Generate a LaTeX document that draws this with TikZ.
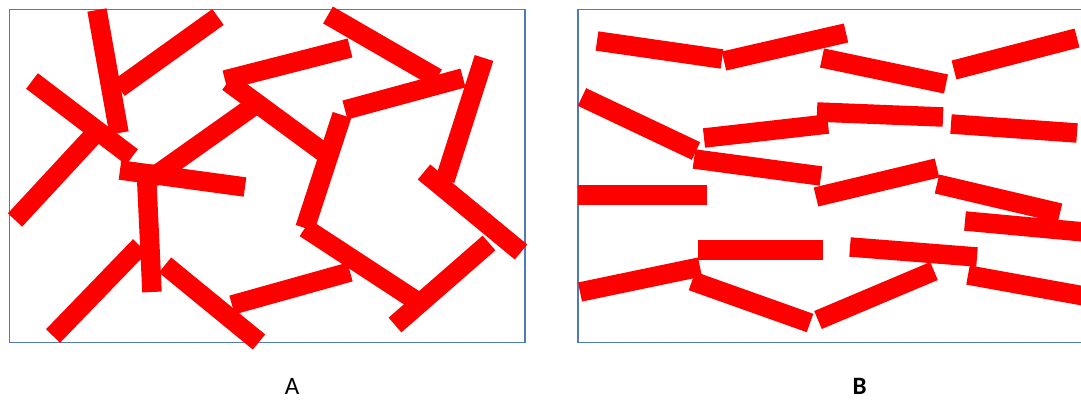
\documentclass[tikz,border=0pt]{standalone}
\usepackage{fontspec}
\setmainfont{Carlito}
\definecolor{framecol}{RGB}{79,123,185}
\definecolor{barred}{RGB}{255,0,0}
\tikzset{
  rbar/.style={draw=barred, line width=19.5pt, line cap=butt},
  panel/.style={draw=framecol, line width=1.1pt},
  lbl/.style={font=\fontsize{25}{30}\selectfont, anchor=base, inner sep=0pt}
}
\begin{document}
\begin{tikzpicture}[x=1pt,y=-1pt]
\useasboundingbox (0,0) rectangle (1081,402);
\fill[white] (0,0) rectangle (1081,402);
\begin{scope}
\clip (0,0) rectangle (1081,402);
% frames
\draw[panel] (9.5,9.5) rectangle (525,342.5);
\draw[panel] (578,9.5) rectangle (1095,342.5);
% panel A
\draw[rbar] (97,10) -- (119,133);
\draw[rbar] (119,88) -- (218,17);
\draw[rbar] (32,81) -- (132,157);
\draw[rbar] (15,220) -- (103,125);
\draw[rbar] (120,170) -- (245,187);
\draw[rbar] (146,165) -- (152,292);
\draw[rbar] (152,178) -- (255,105);
\draw[rbar] (225,80) -- (350,48);
\draw[rbar] (228,82) -- (323,152);
\draw[rbar] (342,115) -- (305,228);
\draw[rbar] (345,110) -- (463,78);
\draw[rbar] (328,15) -- (437,78);
\draw[rbar] (484,58) -- (445,180);
\draw[rbar] (424,172) -- (521,252);
\draw[rbar] (305,228) -- (415,300);
\draw[rbar] (395,325) -- (489,243);
\draw[rbar] (232,305) -- (350,272);
\draw[rbar] (165,265) -- (259,342);
\draw[rbar] (53,336) -- (140,246);
% panel B
\draw[rbar] (597,41) -- (722,59);
\draw[rbar] (724,61) -- (846,33);
\draw[rbar] (822,58) -- (946,84);
\draw[rbar] (954,70) -- (1077,38);
\draw[rbar] (582,97) -- (696,151);
\draw[rbar] (704,138) -- (828,124);
\draw[rbar] (817,112) -- (943,117);
\draw[rbar] (951,124) -- (1077,133);
\draw[rbar] (694,159) -- (821,176);
\draw[rbar] (578,195) -- (707,195);
\draw[rbar] (816,197) -- (937,168);
\draw[rbar] (937,184) -- (1060,213);
\draw[rbar] (965,221) -- (1095,233);
\draw[rbar] (698,250) -- (823,250);
\draw[rbar] (850,247) -- (977,257);
\draw[rbar] (968,275) -- (1095,298);
\draw[rbar] (818,320) -- (934,271);
\draw[rbar] (580,292) -- (700,267);
\draw[rbar] (692,281) -- (810,323);
\end{scope}
% labels
\node[lbl] (labA) at (292,394) {A};
\node[lbl, font=\fontsize{25}{30}\selectfont\bfseries] (labB) at (859.5,394) {B};
\end{tikzpicture}
\end{document}
